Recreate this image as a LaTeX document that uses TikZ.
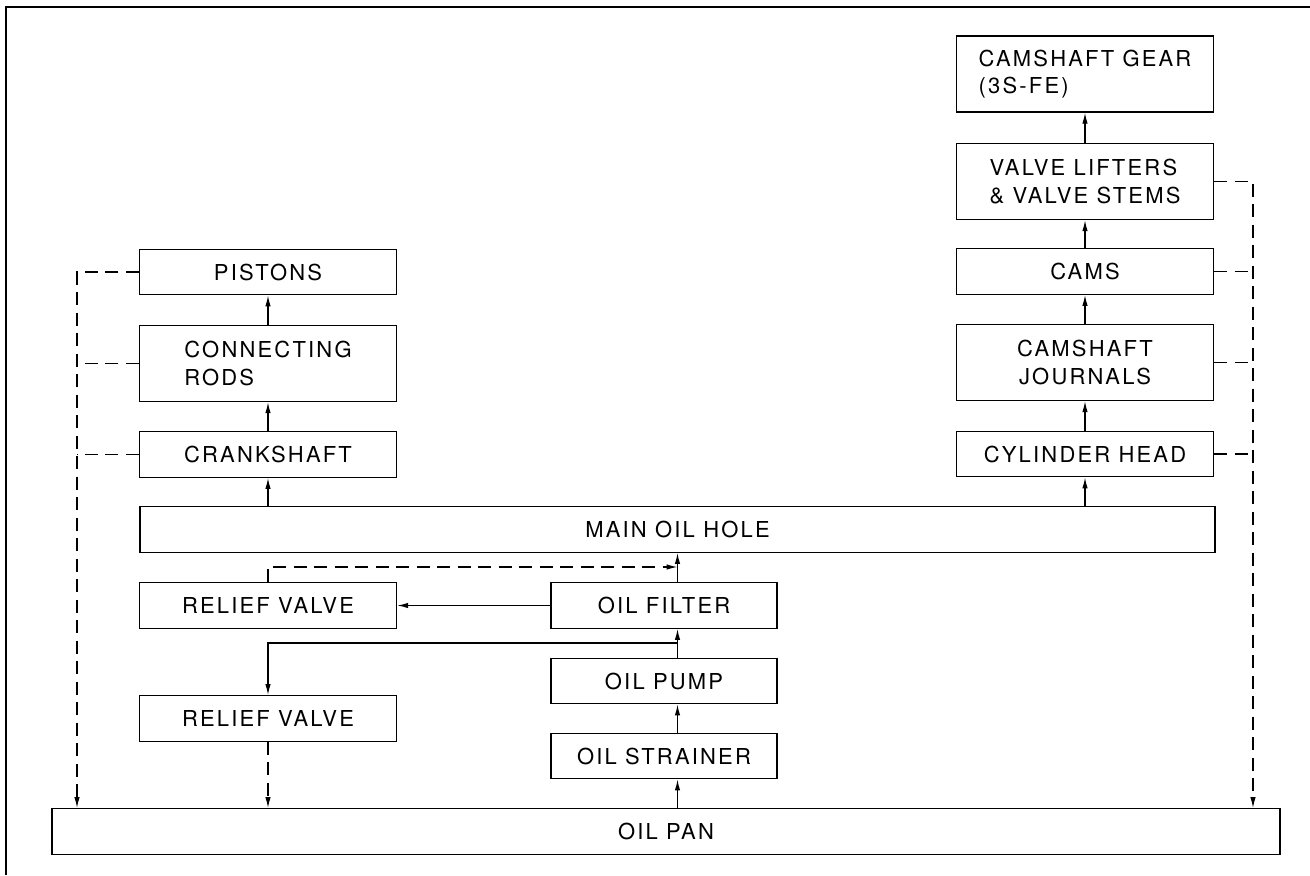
\documentclass[tikz,border=0pt]{standalone}
\usepackage{fontspec}
\newfontfamily\partfont[LetterSpace=10]{TeX Gyre Heros}
\usetikzlibrary{arrows.meta, positioning, calc}

\begin{document}
\begin{tikzpicture}[
    x=0.2mm, y=-0.2mm,
    >={Latex[length=2.2mm,width=1.1mm]},
    % box styles for the lubrication chart
    part/.style={draw, line width=0.8pt, minimum width=51.4mm, minimum height=9.1mm, inner sep=1pt,
                 font=\partfont\fontsize{12.5}{15.5}\selectfont, align=center},
    tallpart/.style={part, minimum height=15.2mm},
    midpart/.style={part, minimum width=45.2mm},
    flow/.style={->, line width=0.7pt},
    seep/.style={->, line width=0.7pt, dash pattern=on 2.6mm off 1.5mm},
    seepline/.style={line width=0.7pt, dash pattern=on 2.6mm off 1.5mm}
]
    \useasboundingbox (0,0) rectangle (1310,875);
    \draw[line width=0.8pt] (6,875) -- (6,7) -- (1310,7);

    % --- Right column (cylinder head side) ---
    \node[tallpart, align=left] (gear) at (1085,74) {CAMSHAFT GEAR\\(3S-FE)};
    \node[tallpart, align=left] (lifters) at (1085,181.5) {VALVE LIFTERS\\\&~VALVE STEMS};
    \node[part] (cams) at (1085,271.5) {CAMS};
    \node[tallpart] (journals) at (1085,362.5) {CAMSHAFT\\JOURNALS};
    \node[part] (cylhead) at (1085,454) {CYLINDER HEAD};

    % --- Left column (crank side) ---
    \node[part] (pistons) at (268,272) {PISTONS};
    \node[tallpart, align=left] (rods) at (268,363.5) {CONNECTING\\RODS};
    \node[part] (crank) at (268,454.5) {CRANKSHAFT};

    % --- Main gallery, pump circuit and pan ---
    \node[part, minimum width=215mm] (main) at (677.5,529.5) {MAIN OIL HOLE};
    \node[part] (relief1) at (268,605.5) {RELIEF VALVE};
    \node[part] (relief2) at (268,718.5) {RELIEF VALVE};
    \node[midpart] (filter) at (664,605.5) {OIL FILTER};
    \node[midpart] (pump) at (664,681) {OIL PUMP};
    \node[midpart] (strainer) at (664,756) {OIL STRAINER};
    \node[part, minimum width=245.6mm] (pan) at (666,831.5) {OIL PAN};

    \coordinate (lbus) at (77,0);
    \coordinate (rbus) at (1253,0);
    \coordinate (bypass) at (0,567);
    \coordinate (tee) at (677.5,643);

    % --- Pressure feed ---
    \draw[flow] (pan.north -| main.south) -- (strainer.south -| main.south);
    \draw[flow] (strainer.north -| main.south) -- (pump.south -| main.south);
    \draw[flow] (pump.north -| main.south) -- (filter.south -| main.south);
    \draw[flow] (filter.north -| main.south) -- (main.south);
    \draw[flow] (filter.west) -- (relief1.east);
    \draw[flow] (tee) -| (relief2.north);
    \draw[flow] (main.north -| crank.south) -- (crank.south);
    \draw[flow] (crank.north) -- (rods.south);
    \draw[flow] (rods.north) -- (pistons.south);
    \draw[flow] (main.north -| cylhead.south) -- (cylhead.south);
    \draw[flow] (cylhead.north) -- (journals.south);
    \draw[flow] (journals.north) -- (cams.south);
    \draw[flow] (cams.north) -- (lifters.south);
    \draw[flow] (lifters.north) -- (gear.south);

    % --- Return to the pan (dashed) ---
    \draw[seep] (relief1.north) |- (main.south |- bypass);
    \draw[seep] (relief2.south) -- (relief2.south |- pan.north);
    \draw[seep] (pistons.west) -| (lbus |- pan.north);
    \draw[seepline] (rods.west) -- (rods.west -| lbus);
    \draw[seepline] (crank.west) -- (crank.west -| lbus);
    \draw[seep] (lifters.east) -| (rbus |- pan.north);
    \draw[seepline] (cams.east) -- (cams.east -| rbus);
    \draw[seepline] (journals.east) -- (journals.east -| rbus);
    \draw[seepline] (cylhead.east) -- (cylhead.east -| rbus);

\end{tikzpicture}
\end{document}
